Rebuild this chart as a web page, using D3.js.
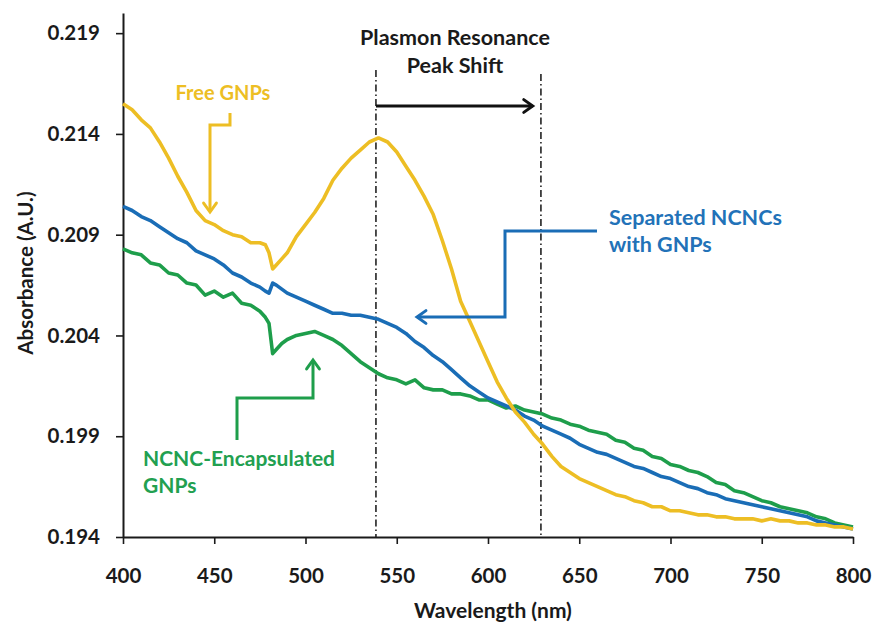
<!DOCTYPE html>
<html>
<head>
<meta charset="utf-8">
<script src="https://cdn.jsdelivr.net/npm/d3@7"></script>
<style>
  html, body { margin: 0; padding: 0; background: #fff; }
  svg { display: block; }
  text { font-family: Lato, "Open Sans", sans-serif; font-weight: 700; }
</style>
</head>
<body>
<svg id="chart" width="875" height="624"></svg>
<script>
// Wavelength grid (nm), finer around the 480 nm artefact
const wavelength = [
  400,405,410,415,420,425,430,435,440,445,450,455,460,465,470,475,478,480,482,484,487,
  490,495,500,505,510,515,520,525,530,535,540,545,550,555,560,565,570,575,580,585,590,
  595,600,605,610,615,620,625,630,635,640,645,650,655,660,665,670,675,680,685,690,695,
  700,705,710,715,720,725,730,735,740,745,750,755,760,765,770,775,780,785,790,795,800
];

// Free GNPs absorbance
const freeGNPs = [
  0.2155,0.2152,0.2147,0.2143,0.2136,0.2128,0.2119,0.2111,0.2102,0.2097,0.2095,0.2092,0.2090,0.2089,0.2086,0.2086,0.2085,0.2081,0.2073,0.2075,0.2078,
  0.2081,0.2089,0.2095,0.2101,0.2108,0.2117,0.2123,0.2128,0.2132,0.2136,0.2138,0.2136,0.2131,0.2124,0.2117,0.2109,0.2100,0.2087,0.2073,0.2057,0.2047,
  0.2037,0.2027,0.2017,0.2009,0.2002,0.1997,0.1991,0.1986,0.1980,0.1975,0.1972,0.1969,0.1967,0.1965,0.1963,0.1961,0.1960,0.1958,0.1957,0.1955,0.1955,
  0.1953,0.1953,0.1952,0.1951,0.1951,0.1950,0.1950,0.1949,0.1949,0.1949,0.1948,0.1949,0.1948,0.1948,0.1947,0.1947,0.1946,0.1946,0.1945,0.1945,0.1944
];

// Separated NCNCs with GNPs absorbance
const separatedNCNCs = [
  0.2104,0.2102,0.2099,0.2097,0.2094,0.2091,0.2088,0.2086,0.2082,0.2080,0.2078,0.2075,0.2071,0.2069,0.2066,0.2064,0.2062,0.2061,0.2066,0.2065,0.2063,
  0.2061,0.2059,0.2057,0.2055,0.2053,0.2051,0.2051,0.2050,0.2050,0.2049,0.2048,0.2046,0.2044,0.2041,0.2037,0.2034,0.2030,0.2027,0.2023,0.2019,0.2015,
  0.2012,0.2009,0.2007,0.2005,0.2003,0.2000,0.1998,0.1995,0.1993,0.1991,0.1989,0.1986,0.1984,0.1982,0.1981,0.1979,0.1977,0.1975,0.1974,0.1972,0.1970,
  0.1969,0.1967,0.1965,0.1964,0.1962,0.1961,0.1959,0.1958,0.1957,0.1956,0.1955,0.1954,0.1953,0.1952,0.1951,0.1950,0.1948,0.1947,0.1946,0.1945,0.1944
];

// NCNC-Encapsulated GNPs absorbance
const encapsulatedGNPs = [
  0.2083,0.2081,0.2080,0.2076,0.2075,0.2071,0.2070,0.2066,0.2065,0.2060,0.2062,0.2059,0.2061,0.2056,0.2055,0.2052,0.2049,0.2046,0.2031,0.2033,0.2036,
  0.2038,0.2040,0.2041,0.2042,0.2040,0.2038,0.2035,0.2031,0.2027,0.2024,0.2021,0.2019,0.2018,0.2016,0.2018,0.2014,0.2013,0.2013,0.2011,0.2011,0.2010,
  0.2008,0.2008,0.2006,0.2004,0.2005,0.2003,0.2002,0.2001,0.1999,0.1998,0.1996,0.1995,0.1993,0.1992,0.1991,0.1988,0.1987,0.1984,0.1983,0.1980,0.1979,
  0.1976,0.1975,0.1973,0.1972,0.1970,0.1967,0.1966,0.1963,0.1962,0.1960,0.1958,0.1957,0.1955,0.1954,0.1953,0.1952,0.1950,0.1949,0.1947,0.1946,0.1945
];

const xTicks = [400, 450, 500, 550, 600, 650, 700, 750, 800];
const yTicks = [0.194, 0.199, 0.204, 0.209, 0.214, 0.219];
const peakMarkers = [538.6, 629];   // plasmon resonance peak positions (nm)

const colors = { free: "#EDBE24", separated: "#1A6DB6", encapsulated: "#1E9E4B" };

const svg = d3.select("#chart");
svg.append("rect").attr("width", 875).attr("height", 624).attr("fill", "#fff");

const x = d3.scaleLinear().domain([400, 800]).range([123, 853]);
const y = d3.scaleLinear().domain([0.194, 0.22]).range([537, 13]);

// axes
const xAxis = svg.append("g")
  .attr("transform", `translate(0,${y(0.194)})`)
  .call(d3.axisBottom(x).tickValues(xTicks).tickFormat(d3.format("d")).tickSize(7).tickSizeOuter(0));
const yAxis = svg.append("g")
  .attr("transform", `translate(${x(400)},0)`)
  .call(d3.axisLeft(y).tickValues(yTicks).tickFormat(d3.format(".3f")).tickSize(7).tickSizeOuter(0).tickPadding(16));

[xAxis, yAxis].forEach(g => {
  g.select(".domain").attr("stroke", "#1a1a1a").attr("stroke-width", 2);
  g.selectAll(".tick line").attr("stroke", "#1a1a1a").attr("stroke-width", 1.6);
  g.selectAll(".tick text").attr("fill", "#1a1a1a").style("font-size", "20.5px").style("font-weight", 700)
    .style("font-family", "Lato, 'Open Sans', sans-serif");
});
xAxis.selectAll(".tick text").attr("y", 31).attr("dy", "0.71em");

// axis titles
svg.append("text").attr("x", 493).attr("y", 618).attr("text-anchor", "middle")
  .attr("fill", "#1a1a1a").style("font-size", "21px").text("Wavelength (nm)");
svg.append("text").attr("transform", "translate(33,273) rotate(-90)").attr("text-anchor", "middle")
  .attr("fill", "#1a1a1a").style("font-size", "20.5px").text("Absorbance (A.U.)");

// dash-dot markers for peak positions
svg.selectAll(".marker").data(peakMarkers).join("line")
  .attr("x1", d => x(d)).attr("x2", d => x(d))
  .attr("y1", (d, i) => i === 0 ? 70 : 74).attr("y2", y(0.194))
  .attr("stroke", "#222").attr("stroke-width", 1.6)
  .attr("stroke-dasharray", "7,3,1.5,3");

// series
const series = [
  { key: "encapsulated", values: encapsulatedGNPs },
  { key: "separated", values: separatedNCNCs },
  { key: "free", values: freeGNPs }
];
const line = d3.line().x(d => x(d[0])).y(d => y(d[1]));
svg.selectAll(".series").data(series).join("path")
  .attr("fill", "none")
  .attr("stroke", d => colors[d.key])
  .attr("stroke-width", 3.6)
  .attr("stroke-linejoin", "round")
  .attr("d", d => line(wavelength.map((w, i) => [w, d.values[i]])));

// annotation arrows (open V heads)
function arrowPath(points, color, width) {
  svg.append("path").attr("d", d3.line()(points))
    .attr("fill", "none").attr("stroke", color).attr("stroke-width", width)
    .attr("stroke-linejoin", "miter");
  const [a, b] = points.slice(-2);
  const ang = Math.atan2(b[1] - a[1], b[0] - a[0]);
  const L = 11, spread = 0.62;
  const head = [
    [b[0] - L * Math.cos(ang - spread), b[1] - L * Math.sin(ang - spread)],
    b,
    [b[0] - L * Math.cos(ang + spread), b[1] - L * Math.sin(ang + spread)]
  ];
  svg.append("path").attr("d", d3.line()(head))
    .attr("fill", "none").attr("stroke", color).attr("stroke-width", width)
    .attr("stroke-linejoin", "miter").attr("stroke-linecap", "round");
}

// peak shift arrow and title
arrowPath([[x(538.6), 106], [x(624.5), 106]], "#111", 3);
svg.append("text").attr("x", 455).attr("y", 45).attr("text-anchor", "middle")
  .attr("fill", "#1a1a1a").style("font-size", "21.5px").text("Plasmon Resonance");
svg.append("text").attr("x", 455).attr("y", 73).attr("text-anchor", "middle")
  .attr("fill", "#1a1a1a").style("font-size", "21.5px").text("Peak Shift");

// Free GNPs label
svg.append("text").attr("x", 223).attr("y", 100).attr("text-anchor", "middle")
  .attr("fill", colors.free).style("font-size", "20px").text("Free GNPs");
arrowPath([[230, 113], [230, 125], [210, 125], [210, 212]], colors.free, 3);

// Separated NCNCs label
svg.append("text").attr("x", 609).attr("y", 225)
  .attr("fill", "#2272B8").style("font-size", "21.5px").text("Separated NCNCs");
svg.append("text").attr("x", 609).attr("y", 252)
  .attr("fill", "#2272B8").style("font-size", "21.5px").text("with GNPs");
arrowPath([[597, 231], [505, 231], [505, 317], [417, 317]], colors.separated, 3);

// NCNC-Encapsulated GNPs label
svg.append("text").attr("x", 143).attr("y", 466)
  .attr("fill", "#22A050").style("font-size", "21px").text("NCNC-Encapsulated");
svg.append("text").attr("x", 143).attr("y", 493)
  .attr("fill", "#22A050").style("font-size", "21px").text("GNPs");
arrowPath([[237, 440], [237, 398], [313, 398], [313, 360]], colors.encapsulated, 3);
</script>
</body>
</html>
